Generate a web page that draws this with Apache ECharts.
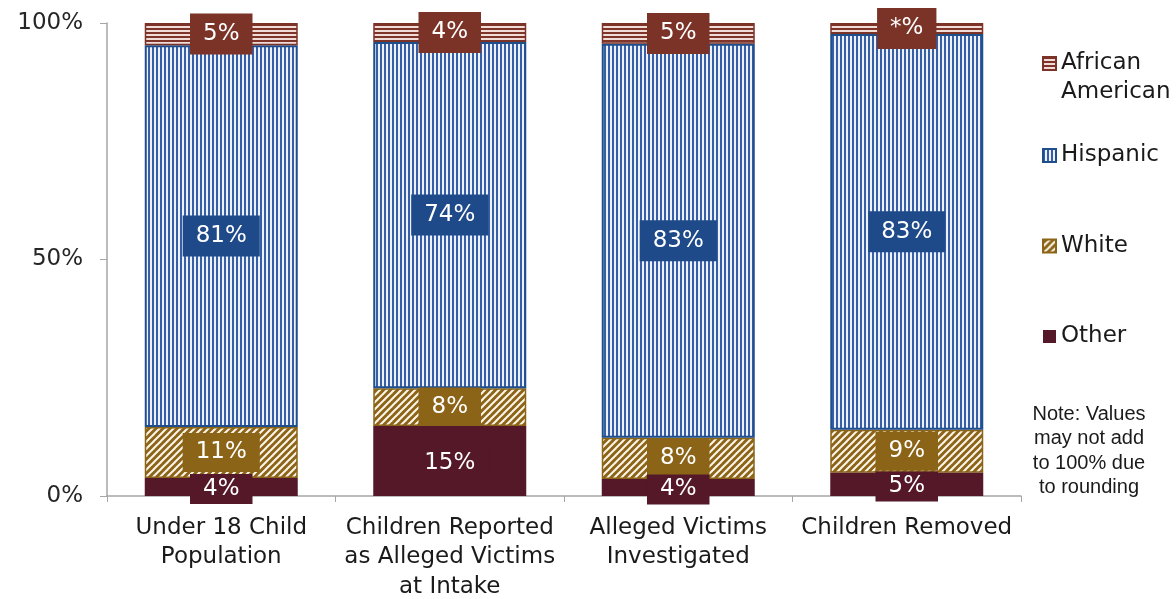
<!DOCTYPE html>
<html>
<head>
<meta charset="utf-8">
<script src="https://cdn.jsdelivr.net/npm/echarts@6/dist/echarts.min.js"></script>
<style>html,body{margin:0;padding:0;background:#fff}#c{width:1176px;height:599px}</style>
</head>
<body>
<div id="c"></div>
<script>
// ---- data ----
const categories = ['Under 18 Child\nPopulation', 'Children Reported\nas Alleged Victims\nat Intake', 'Alleged Victims\nInvestigated', 'Children Removed'];
const otherValues = [3.8, 14.8, 3.6, 4.9];
const whiteValues = [10.8, 8.0, 8.7, 9.1];
const hispanicValues = [80.7, 73.2, 83.3, 83.7];
const africanAmericanValues = [4.7, 4.0, 4.4, 2.3];
const otherLabels = ['4%', '15%', '4%', '5%'];
const whiteLabels = ['11%', '8%', '8%', '9%'];
const hispanicLabels = ['81%', '74%', '83%', '83%'];
const africanAmericanLabels = ['5%', '4%', '5%', '*%'];
const yTicks = [0, 50, 100];
const noteLines = ['Note: Values', 'may not add', 'to 100% due', 'to rounding'];

// ---- patterns ----
function pattern(kind) {
  const c = document.createElement('canvas');
  const ctx = c.getContext('2d');
  if (kind === 'h') { // horizontal stripes
    c.width = 4; c.height = 4;
    ctx.fillStyle = '#f1dcd8'; ctx.fillRect(0, 0, 4, 4);
    ctx.fillStyle = '#7f3429'; ctx.fillRect(0, 0, 4, 2);
  } else if (kind === 'v') { // vertical stripes
    c.width = 4; c.height = 4;
    ctx.fillStyle = '#eef1f8'; ctx.fillRect(0, 0, 4, 4);
    ctx.fillStyle = '#3560a8'; ctx.fillRect(0, 0, 2, 4);
  } else { // diagonal stripes "/"
    const s = 7;
    c.width = s; c.height = s;
    ctx.fillStyle = '#8b6417'; ctx.fillRect(0, 0, s, s);
    ctx.strokeStyle = '#fbf5ea'; ctx.lineWidth = 2;
    for (let k = -1; k <= 1; k++) {
      ctx.beginPath();
      ctx.moveTo(k * s - 1, s + 1);
      ctx.lineTo(k * s + s + 1, -1);
      ctx.stroke();
    }
  }
  return { image: c, repeat: 'repeat' };
}

const FONT = 'DejaVu Sans';
function lbl(bg, arr, extra) {
  return Object.assign({
    show: true, position: 'inside', color: '#fff', fontFamily: FONT, fontSize: 23,
    backgroundColor: bg, padding: [9, 13],
    formatter: p => arr[p.dataIndex]
  }, extra || {});
}

const chart = echarts.init(document.getElementById('c'), null, { renderer: 'canvas' });
chart.setOption({
  animation: false,
  grid: { left: 107, right: 155, top: 23, bottom: 103, containLabel: false, outerBoundsMode: 'none' },
  legend: [
    {
      data: ['African American'], orient: 'vertical', left: 1042, top: 20, padding: 0,
      itemWidth: 13, itemHeight: 13, icon: 'rect',
      formatter: () => ' \nAfrican\nAmerican',
      textStyle: { fontFamily: FONT, fontSize: 23, color: '#1a1a1a', lineHeight: 29 }
    },
    {
      data: ['Hispanic', 'White', 'Other'], orient: 'vertical', left: 1042, top: 141, padding: 0,
      itemWidth: 13, itemHeight: 13, icon: 'rect', itemGap: 61.5,
      textStyle: { fontFamily: FONT, fontSize: 23, color: '#1a1a1a', lineHeight: 29 }
    }
  ],
  xAxis: {
    type: 'category', data: categories,
    axisLine: { lineStyle: { color: '#a6a6a6', width: 1.5 } },
    axisTick: { show: true, length: 6, lineStyle: { color: '#a6a6a6' } },
    axisLabel: { fontFamily: FONT, fontSize: 23, color: '#1a1a1a', lineHeight: 29.5, margin: 17, interval: 0 }
  },
  yAxis: {
    type: 'value', min: 0, max: 100, interval: 50,
    axisLine: { show: true, lineStyle: { color: '#a6a6a6', width: 1.5 } },
    axisTick: { show: true, length: 7, lineStyle: { color: '#a6a6a6' } },
    splitLine: { show: false },
    axisLabel: {
      fontFamily: FONT, fontSize: 23, color: '#262626', margin: 24,
      formatter: v => (yTicks.indexOf(v) >= 0 ? v + '%' : '')
    }
  },
  series: [
    {
      name: 'Other', type: 'bar', stack: 's', barWidth: 153, data: otherValues, z: 3,
      itemStyle: { color: '#541828' },
      label: lbl('#541828', otherLabels, { padding: [0, 13, 8, 13], lineHeight: 22, offset: [0, 2] })
    },
    {
      name: 'White', type: 'bar', stack: 's', data: whiteValues,
      itemStyle: { color: pattern('d'), borderColor: '#8b6417', borderWidth: 1.5 },
      label: lbl('#8b6417', whiteLabels, { padding: [8, 13] })
    },
    {
      name: 'Hispanic', type: 'bar', stack: 's', data: hispanicValues,
      itemStyle: { color: pattern('v'), borderColor: '#1f4e8c', borderWidth: 2 },
      label: lbl('#1f4a8a', hispanicLabels)
    },
    {
      name: 'African American', type: 'bar', stack: 's', data: africanAmericanValues,
      itemStyle: { color: pattern('h'), borderColor: '#7b3328', borderWidth: 1.5 },
      label: lbl('#7b3328', africanAmericanLabels)
    }
  ],
  graphic: [{
    type: 'text', x: 1089, y: 402,
    style: {
      text: noteLines.join('\n'), fontFamily: 'Liberation Sans', fontSize: 20,
      lineHeight: 24.5, fill: '#1a1a1a', align: 'center', verticalAlign: 'top'
    }
  }]
});
</script>
</body>
</html>
